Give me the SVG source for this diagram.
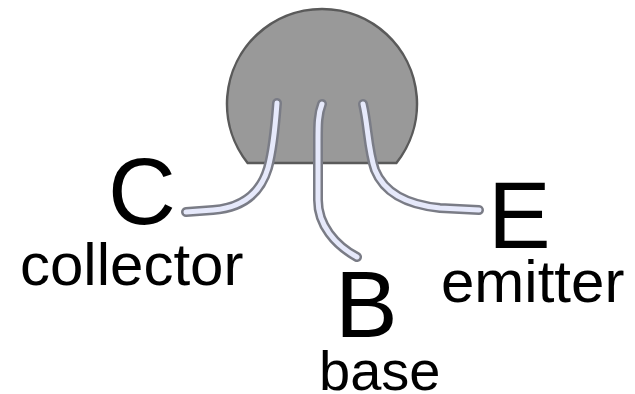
<svg xmlns="http://www.w3.org/2000/svg" width="635" height="394" viewBox="0 0 635 394">
  <style>
    .body { fill: #999999; stroke: #5a5a5a; stroke-width: 2.5; }
    .lead-edge { fill: none; stroke: #7a7c86; stroke-width: 10; stroke-linecap: round; stroke-linejoin: round; }
    .lead-core { fill: none; stroke: #e6e9fb; stroke-width: 5; stroke-linecap: round; stroke-linejoin: round; }
    .pin { font-family: "Liberation Sans", Arial, sans-serif; font-size: 94px; fill: #000; }
    .name { font-family: "Liberation Sans", Arial, sans-serif; font-size: 60px; fill: #000; }
  </style>

  <!-- transistor package (TO-92 seen from below) -->
  <g id="package">
    <path class="body" d="M247.6,163 A95,95 0 1 1 396.4,163 Z"/>
  </g>

  <!-- the three leads -->
  <g id="leads">
    <g id="lead-collector">
      <path class="lead-edge" d="M277,103 C275,130 273,150 268,168 C260,195 240,208 213,210 L186,212"/>
      <path class="lead-core" d="M277,103 C275,130 273,150 268,168 C260,195 240,208 213,210 L186,212"/>
    </g>
    <g id="lead-base">
      <path class="lead-edge" d="M322,104 C318,114 318,125 318,140 L318,200 C318,225 335,245 357,257"/>
      <path class="lead-core" d="M322,104 C318,114 318,125 318,140 L318,200 C318,225 335,245 357,257"/>
    </g>
    <g id="lead-emitter">
      <path class="lead-edge" d="M363,104 C368,125 368,150 375,170 C385,195 410,205 440,208 L479,210"/>
      <path class="lead-core" d="M363,104 C368,125 368,150 375,170 C385,195 410,205 440,208 L479,210"/>
    </g>
  </g>

  <!-- pin labels -->
  <g id="label-collector">
    <text class="pin" x="108" y="224">C</text>
    <text class="name" x="20" y="285">collector</text>
  </g>
  <g id="label-base">
    <text class="pin" x="335" y="337">B</text>
    <text class="name" x="319" y="390" style="font-size:56px">base</text>
  </g>
  <g id="label-emitter">
    <text class="pin" x="488" y="248">E</text>
    <text class="name" x="441" y="302">emitter</text>
  </g>
</svg>
